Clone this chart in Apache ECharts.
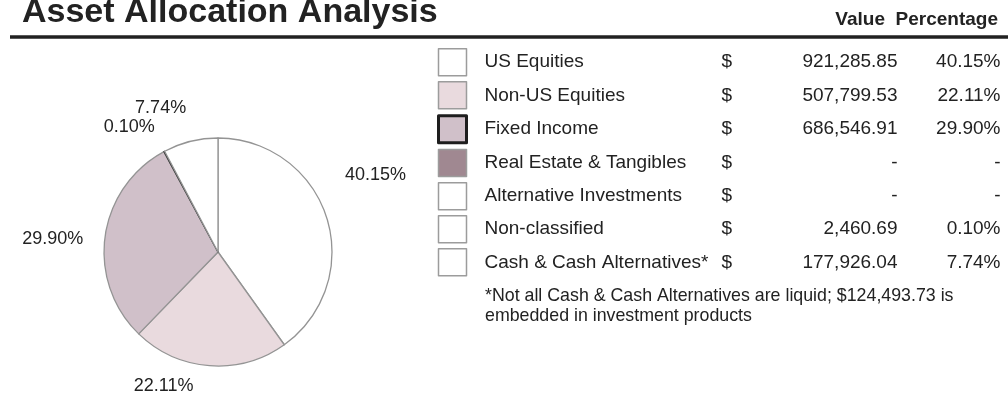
<!DOCTYPE html>
<html lang="en">
<head>
<meta charset="UTF-8">
<title>Asset Allocation Analysis</title>
<script src="https://cdn.jsdelivr.net/npm/echarts@6/dist/echarts.min.js"></script>
<style>
    html, body { margin: 0; padding: 0; background: #fff; }
    #main { width: 1008px; height: 408px; }
</style>
</head>
<body>
<div id="main"></div>
<script>
    // data
    var categories = ['US Equities', 'Non-US Equities', 'Fixed Income', 'Real Estate & Tangibles',
        'Alternative Investments', 'Non-classified', 'Cash & Cash Alternatives*'];
    var values = [921285.85, 507799.53, 686546.91, 0, 0, 2460.69, 177926.04];
    var valueLabels = ['921,285.85', '507,799.53', '686,546.91', '-', '-', '2,460.69', '177,926.04'];
    var pctLabels = ['40.15%', '22.11%', '29.90%', '-', '-', '0.10%', '7.74%'];
    var footnote = ['*Not all Cash & Cash Alternatives are liquid; $124,493.73 is',
        'embedded in investment products'];

    // palette
    var sliceColors = ['#ffffff', '#e9dade', '#d0c0c9', '#a08891', '#ffffff', '#ffffff', '#ffffff'];
    // small nudges so the slice labels sit where the report puts them
    var labelShift = [[-4, -38], [-6, 6], [1, 5], [0, 0], [0, 0], [6, -12], [8, -20]];

    var font = 'Liberation Sans, Arial, Helvetica, sans-serif';
    var myChart = echarts.init(document.getElementById('main'));

    var pieData = categories.map(function (name, i) {
        var item = {
            name: name,
            value: values[i],
            itemStyle: { color: sliceColors[i] }
        };
        if (values[i] === 0) item.label = { show: false };
        if (name === 'Non-classified') item.itemStyle.borderColor = '#3a3a3a';
        return item;
    });

    var legendData = categories.map(function (name, i) {
        var st = { color: sliceColors[i], borderColor: '#9c9c9c', borderWidth: 1.5 };
        if (name === 'Fixed Income') { st.borderColor = '#1e1e1e'; st.borderWidth = 3; }
        return { name: name, icon: 'rect', itemStyle: st };
    });

    function col(w, align) {
        var s = { width: w, fontSize: 19, lineHeight: 27, fontFamily: font, color: '#222' };
        if (align) s.align = align;
        return s;
    }
    var nameCol = col(237);
    nameCol.padding = [0, 0, 0, 13];

    var option = {
        animation: false,
        backgroundColor: '#fff',
        legend: {
            orient: 'vertical',
            left: 432,
            top: 43,
            itemWidth: 28,
            itemHeight: 27,
            itemGap: 4.6,
            selectedMode: false,
            data: legendData,
            formatter: function (name) {
                var i = categories.indexOf(name);
                return '{n|' + name + '}{d|$}{v|' + valueLabels[i] + '}{p|' + pctLabels[i] + '}';
            },
            textStyle: {
                fontFamily: font,
                fontSize: 19,
                lineHeight: 27,
                color: '#222',
                rich: {
                    n: nameCol,
                    d: col(9),
                    v: col(167, 'right'),
                    p: col(103, 'right')
                }
            }
        },
        graphic: [
            {
                type: 'text', left: 22, top: -4,
                style: { text: 'Asset Allocation Analysis', font: 'bold 34px ' + font, fill: '#222' }
            },
            {
                type: 'line',
                shape: { x1: 10, y1: 37, x2: 1008, y2: 37 },
                style: { stroke: '#222', lineWidth: 3.5 }
            },
            {
                type: 'text', right: 10, top: 10,
                style: { text: 'Value  Percentage', font: 'bold 19px ' + font, fill: '#222' }
            },
            {
                type: 'text', left: 485, top: 286,
                style: { text: footnote.join('\n'), font: '17.8px ' + font, fill: '#222', lineHeight: 20 }
            }
        ],
        series: [{
            type: 'pie',
            center: [218, 252],
            radius: 114,
            startAngle: 90,
            clockwise: true,
            avoidLabelOverlap: false,
            emphasis: { disabled: true },
            itemStyle: { borderColor: '#949494', borderWidth: 1.3 },
            label: {
                show: true,
                position: 'outside',
                fontFamily: font,
                fontSize: 18,
                color: '#222',
                formatter: function (p) { return pctLabels[p.dataIndex]; }
            },
            labelLine: { show: false, length: 14, length2: 4 },
            labelLayout: function (p) {
                var s = labelShift[p.dataIndex];
                return { dx: s[0], dy: s[1], hideOverlap: false, moveOverlap: null };
            },
            data: pieData
        }]
    };

    myChart.setOption(option);
</script>
</body>
</html>
